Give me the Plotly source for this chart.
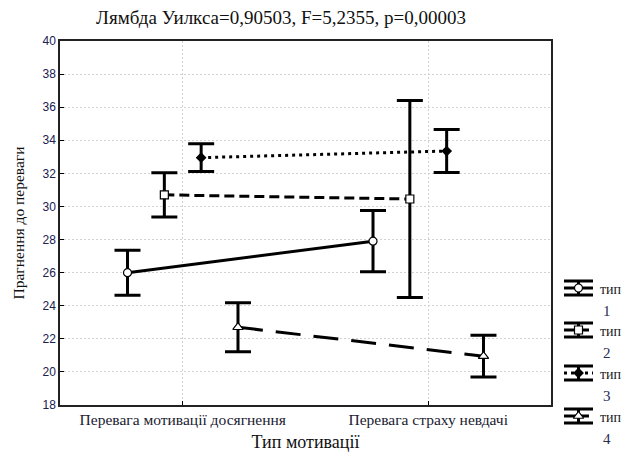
import plotly.graph_objects as go

# ---- data ----
categories = ["Перевага мотивації досягнення", "Перевага страху невдачі"]
series_names = ["тип 1", "тип 2", "тип 3", "тип 4"]
means_t1 = [26.0, 27.9]
means_t2 = [30.7, 30.45]
means_t3 = [32.95, 33.35]
means_t4 = [22.7, 20.95]
err_t1 = [1.36, 1.85]
err_t2 = [1.34, 5.95]
err_t3 = [0.84, 1.3]
err_t4 = [1.48, 1.26]
y_ticks = [18, 20, 22, 24, 26, 28, 30, 32, 34, 36, 38, 40]
title_text = "Лямбда Уилкса=0,90503, F=5,2355, p=0,00003"
x_title = "Тип мотивації"
y_title = "Прагнення до переваги"

means = [means_t1, means_t2, means_t3, means_t4]
errs = [err_t1, err_t2, err_t3, err_t4]

# ---- styles ----
offsets = [-0.225, -0.075, 0.075, 0.225]
dashes = ["solid", "10px,5px", "3px,4px", "25px,13px"]
symbols = ["circle", "square", "diamond", "triangle-up"]
fills = ["white", "white", "black", "white"]
msizes = [8, 8, 7, 9]
SERIF = "Liberation Serif"
SANS = "Liberation Sans"
W, H = 626, 459
PL, PR, PT, PB = 60, 551, 41, 405

fig = go.Figure()
for i in range(4):
    xs = [j + offsets[i] for j in range(len(categories))]
    fig.add_trace(go.Scatter(
        x=xs, y=means[i], mode="lines+markers", name=series_names[i],
        line=dict(color="black", width=3, dash=dashes[i]),
        marker=dict(symbol=symbols[i], size=msizes[i], color=fills[i],
                    line=dict(color="black", width=1.2)),
        error_y=dict(type="data", array=errs[i], visible=True,
                     color="black", thickness=3, width=13),
        showlegend=False, cliponaxis=False,
    ))

# ---- custom legend on a full-page pixel axis ----
leg_y = [288, 330, 373, 416]
for i in range(4):
    yc = leg_y[i]
    fig.add_trace(go.Scatter(
        x=[564, 593], y=[yc, yc], mode="lines", xaxis="x2", yaxis="y2",
        line=dict(color="black", width=3, dash=dashes[i]), showlegend=False,
        hoverinfo="skip"))
    fig.add_trace(go.Scatter(
        x=[578.5], y=[yc], mode="markers", xaxis="x2", yaxis="y2",
        marker=dict(symbol=symbols[i], size=msizes[i], color=fills[i],
                    line=dict(color="black", width=1.2)),
        error_y=dict(type="constant", value=7, visible=True,
                     color="black", thickness=3, width=14.5),
        showlegend=False, hoverinfo="skip", cliponaxis=False))
    word, num = series_names[i].split(" ")
    fig.add_annotation(x=598, y=yc + 1, xref="x2", yref="y2", text=word,
                       showarrow=False, xanchor="left", yanchor="middle",
                       font=dict(family=SERIF, size=14, color="#1a1a1a"))
    fig.add_annotation(x=601, y=yc + 23, xref="x2", yref="y2", text=num,
                       showarrow=False, xanchor="left", yanchor="middle",
                       font=dict(family=SERIF, size=15, color="#2a2a50"))

fig.add_annotation(x=281, y=17, xref="x2", yref="y2", text=title_text,
                   showarrow=False, xanchor="center", yanchor="middle",
                   font=dict(family=SERIF, size=19, color="#111111"))

fig.update_layout(
    width=W, height=H, template="none",
    margin=dict(l=0, r=0, t=0, b=0, autoexpand=False),
    paper_bgcolor="white", plot_bgcolor="rgba(0,0,0,0)",
    xaxis=dict(
        domain=[PL / W, PR / W], range=[-0.5, 1.5],
        tickvals=list(range(len(categories))), ticktext=categories,
        tickfont=dict(family=SERIF, size=15.5, color="#1a1a30"),
        ticks="inside", ticklen=4, tickcolor="black",
        showgrid=True, gridcolor="#d2d2d2", griddash="2px,2px", gridwidth=1,
        zeroline=False, showline=True, linecolor="#222222", linewidth=1.5,
        mirror=True, automargin=False,
        title=dict(text=x_title, font=dict(family=SERIF, size=18, color="#111111"),
                   standoff=8),
    ),
    yaxis=dict(
        domain=[(H - PB) / H, (H - PT) / H], range=[18, 40],
        tickvals=y_ticks, ticktext=[str(t) for t in y_ticks],
        tickfont=dict(family=SANS, size=12, color="#202050"),
        ticks="inside", ticklen=4, tickcolor="black",
        showgrid=True, gridcolor="#d2d2d2", griddash="2px,2px", gridwidth=1,
        zeroline=False, showline=True, linecolor="#222222", linewidth=1.5,
        mirror=True, automargin=False,
        title=dict(text=y_title, font=dict(family=SERIF, size=15.5, color="#111111"),
                   standoff=14),
    ),
    xaxis2=dict(domain=[0, 1], range=[0, W], visible=False, fixedrange=True,
                anchor="y2"),
    yaxis2=dict(domain=[0, 1], range=[H, 0], visible=False, fixedrange=True,
                anchor="x2"),
)

fig.write_html("out.html", config={"displayModeBar": False},
               post_script="document.body.style.margin='0';document.body.style.overflow='hidden';")
